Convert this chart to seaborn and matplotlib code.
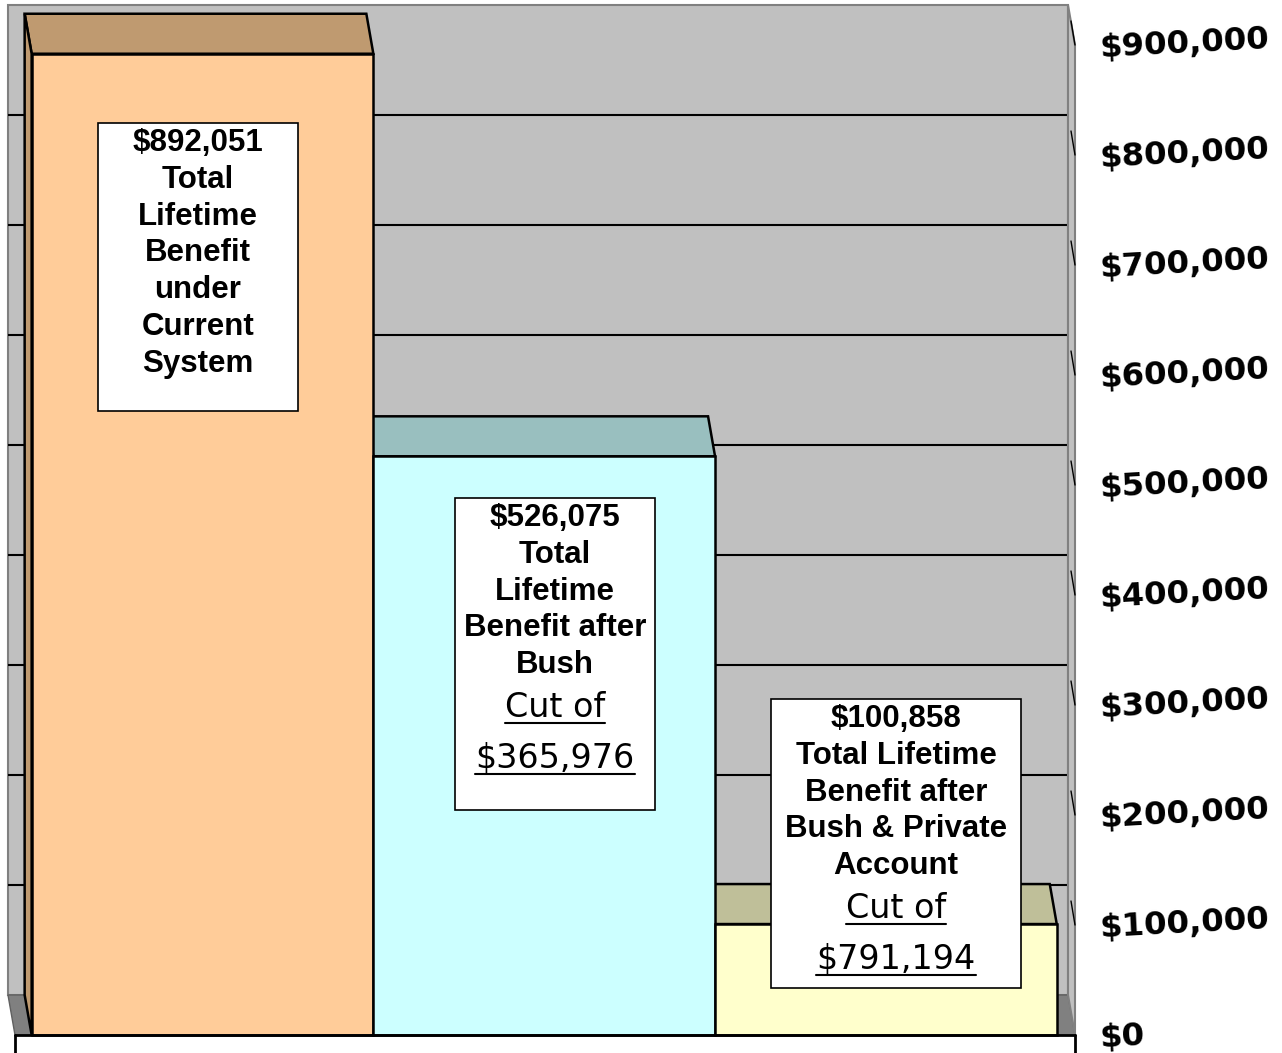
"""
3D-style Excel bar chart of lifetime benefits, rebuilt with seaborn
"""
import matplotlib
matplotlib.use("Agg")
import matplotlib.pyplot as plt
import seaborn as sns
import pandas as pd
from matplotlib.patches import Polygon, Rectangle
from matplotlib.lines import Line2D
from matplotlib.transforms import IdentityTransform

# data
categories = ["Current System", "After Bush", "After Bush & Private Account"]
benefits = [892051, 526075, 100858]
front_colors = ["#FFCC99", "#CCFFFF", "#FFFFCC"]
top_colors = ["#BF9A70", "#99BFBF", "#BFBF99"]
tick_values = [0, 100000, 200000, 300000, 400000, 500000, 600000, 700000, 800000, 900000]
tick_labels = ["$0", "$100,000", "$200,000", "$300,000", "$400,000", "$500,000",
               "$600,000", "$700,000", "$800,000", "$900,000"]
box_text = [["Total", "Lifetime", "Benefit", "under", "Current", "System"],
            ["Total", "Lifetime", "Benefit after", "Bush"],
            ["Total Lifetime", "Benefit after", "Bush & Private", "Account"]]
cut_text = [None, ["Cut of", "$365,976"], ["Cut of", "$791,194"]]

sns.set_style("white", {"text.color": "black", "ytick.color": "black",
                        "axes.labelcolor": "black"})

W, H = 1282, 1053
fig = plt.figure(figsize=(W / 100, H / 100), dpi=100)
AX_W = 1075
ax = fig.add_axes([0, 0, AX_W / W, 1])

# pixel layout -> data units
CAT_PX = 341.7      # pixels per category
X0_PX = 202.5       # centre of first bar
VAL_PX = 0.0011     # pixels per dollar
ZERO_PX = 18        # baseline height above bottom


def xd(px):
    return (px - X0_PX) / CAT_PX


DX = -7 / CAT_PX
DY = 40 / VAL_PX

df = pd.DataFrame({"category": categories, "benefit": benefits})
sns.barplot(data=df, x="category", y="benefit", hue="category", palette=front_colors,
            saturation=1, width=1.0, edgecolor="black", linewidth=1.8,
            legend=False, ax=ax, zorder=3)

ax.set_xlim(-X0_PX / CAT_PX, (AX_W - X0_PX) / CAT_PX)
ax.set_ylim(-ZERO_PX / VAL_PX, (H - ZERO_PX) / VAL_PX)

# back wall, floor and gridlines
wall_l, wall_r = xd(8), xd(1068)
ax.add_patch(Rectangle((wall_l, DY), wall_r - wall_l, tick_values[-1],
                       facecolor="#C0C0C0", edgecolor="#808080", lw=1.5, zorder=0.5))
ax.add_patch(Polygon([(wall_l, DY), (wall_r, DY), (xd(1075), 0), (xd(15), 0)],
                     closed=True, facecolor="#808080", edgecolor="#606060",
                     lw=1, zorder=0.6, clip_on=False))
ax.hlines([v + DY for v in tick_values[1:-1]], wall_l, wall_r, color="black",
          lw=1.5, zorder=0.7)

# right side strip with slanted ticks
ax.add_patch(Polygon([(wall_r, DY), (wall_r, tick_values[-1] + DY),
                      (xd(1075), tick_values[-1]), (xd(1075), 0)],
                     closed=True, facecolor="#C0C0C0", edgecolor="#808080",
                     lw=1.5, zorder=0.8, clip_on=False))
for v in tick_values[1:]:
    ax.plot([xd(1071), xd(1075)], [v + DY * 0.6, v], color="black", lw=1,
            zorder=0.9, clip_on=False)

# bar tops and left side of first bar
for i, (v, c) in enumerate(zip(benefits, top_colors)):
    x0, x1 = i - 0.5, i + 0.5
    ax.add_patch(Polygon([(x0, v), (x1, v), (x1 + DX, v + DY), (x0 + DX, v + DY)],
                         closed=True, facecolor=c, edgecolor="black", lw=1.8,
                         zorder=2))
ax.add_patch(Polygon([(-0.5, 0), (-0.5, benefits[0]), (-0.5 + DX, benefits[0] + DY),
                      (-0.5 + DX, DY)], closed=True, facecolor=top_colors[0],
                     edgecolor="black", lw=1.8, zorder=2))

# front base lines
ax.plot([xd(15), xd(1075)], [0, 0], color="black", lw=2, zorder=4, clip_on=False)
ax.plot([xd(15), xd(15)], [ax.get_ylim()[0], 0], color="black", lw=2, clip_on=False)
ax.plot([xd(1075), xd(1075)], [ax.get_ylim()[0], 0], color="black", lw=2,
        clip_on=False)

# axis styling
for s in ax.spines.values():
    s.set_visible(False)
ax.set_xticks([])
ax.set_xlabel("")
ax.set_ylabel("")
ax.yaxis.tick_right()
ax.set_yticks(tick_values)
ax.set_yticklabels(tick_labels)
ax.tick_params(axis="y", length=0, pad=18, labelrotation=3, labelsize=23.3,
               labelcolor="black")
for lab in ax.get_yticklabels():
    lab.set_fontweight("bold")
    lab.set_fontfamily("DejaVu Sans")
    lab.set_rotation_mode("anchor")

# label boxes (figure pixels)
boxes = [(98, 123, 298, 411), (455, 498, 655, 810), (771, 699, 1021, 988)]
first_line = [143, 518, 719]
STEP = 36.8


def fx(px):
    return px / W


def fy(py):
    return 1 - py / H


cut_texts = []
for i, (x0, y0, x1, y1) in enumerate(boxes):
    fig.add_artist(Rectangle((fx(x0), fy(y1)), fx(x1) - fx(x0), fy(y0) - fy(y1),
                             transform=fig.transFigure, facecolor="white",
                             edgecolor="black", lw=1.2, zorder=5))
    cx = (x0 + x1) / 2
    lines = [f"${benefits[i]:,}"] + box_text[i]
    for k, line in enumerate(lines):
        fig.text(fx(cx), fy(first_line[i] + k * STEP), line, ha="center", va="center",
                 fontsize=22.5, fontweight="bold", family="Liberation Sans",
                 color="black", zorder=6)
    if cut_text[i]:
        last = first_line[i] + (len(lines) - 1) * STEP
        for k, line in enumerate(cut_text[i]):
            base = last + 52 + k * 51
            t = fig.text(fx(cx), fy(base), line, ha="center", va="baseline",
                         fontsize=24, family="DejaVu Sans", color="black", zorder=6)
            cut_texts.append((t, base))

# underline the cut amounts
fig.canvas.draw()
renderer = fig.canvas.get_renderer()
for t, base in cut_texts:
    bb = t.get_window_extent(renderer)
    yl = H - base - 6
    fig.add_artist(Line2D([bb.x0, bb.x1], [yl, yl], transform=IdentityTransform(),
                          color="black", lw=1.5, zorder=6))

fig.savefig("out.png", dpi=100)
